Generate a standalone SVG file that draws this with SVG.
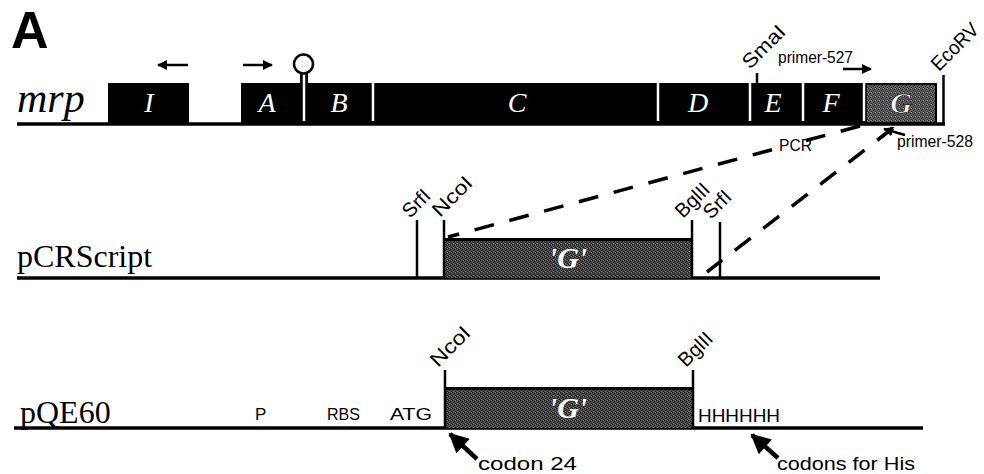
<svg xmlns="http://www.w3.org/2000/svg" width="984" height="474" viewBox="0 0 984 474">
  <defs>
    <!-- stippled grey fill for the G fragment -->
    <pattern id="stip" width="4" height="4" patternUnits="userSpaceOnUse">
      <rect width="4" height="4" fill="#4a4a4a"/>
      <rect x="0" y="0" width="1" height="1" fill="#111"/>
      <rect x="2" y="1" width="1" height="1" fill="#111"/>
      <rect x="1" y="2" width="1" height="1" fill="#1a1a1a"/>
      <rect x="3" y="3" width="1" height="1" fill="#111"/>
      <rect x="3" y="0" width="1" height="1" fill="#7a7a7a"/>
      <rect x="1" y="3" width="1" height="1" fill="#7a7a7a"/>
    </pattern>
    <pattern id="stipG" width="4" height="4" patternUnits="userSpaceOnUse">
      <rect width="4" height="4" fill="#5e5e5e"/>
      <rect x="0" y="0" width="1" height="1" fill="#222"/>
      <rect x="2" y="1" width="1" height="1" fill="#222"/>
      <rect x="1" y="2" width="1" height="1" fill="#2a2a2a"/>
      <rect x="3" y="3" width="1" height="1" fill="#222"/>
      <rect x="3" y="0" width="1" height="1" fill="#999"/>
    </pattern>
    <marker id="head" viewBox="0 0 10 10" refX="9" refY="5" markerWidth="10" markerHeight="10" markerUnits="userSpaceOnUse" orient="auto">
      <path d="M0,0 L10,5 L0,10 Z" fill="#000"/>
    </marker>
    <marker id="bighead" viewBox="0 0 10 10" refX="9" refY="5" markerWidth="5" markerHeight="4.4" orient="auto">
      <path d="M0,0 L10,5 L0,10 Z" fill="#000"/>
    </marker>
  </defs>
  <style>
    .seq { stroke: #000; stroke-width: 3.5; fill: none; }
    .tick { stroke: #000; stroke-width: 2.5; }
    .sep { stroke: #fff; stroke-width: 2.5; }
    .gene { fill: #000; }
    .glab { font-family: "Liberation Serif", serif; font-style: italic; font-size: 28px; fill: #fff; text-anchor: middle; }
    .gbold { font-family: "Liberation Serif", serif; font-style: italic; font-weight: bold; font-size: 30px; fill: #fff; text-anchor: middle; }
    .name { font-family: "Liberation Serif", serif; font-size: 32px; fill: #000; }
    .site { font-family: "Liberation Sans", sans-serif; font-size: 20px; fill: #000; }
    .lab { font-family: "Liberation Sans", sans-serif; font-size: 16px; fill: #000; }
    .note { font-family: "Liberation Sans", sans-serif; font-size: 18px; fill: #000; }
    .dash { stroke: #000; stroke-width: 3.5; stroke-dasharray: 20 16; fill: none; }
    .arr { stroke: #000; stroke-width: 2.5; fill: none; }
    .bigarr { stroke: #000; stroke-width: 4.5; fill: none; }
  </style>

  <text x="11" y="48" font-family="Liberation Sans, sans-serif" font-weight="bold" font-size="52" fill="#000">A</text>

  <!-- mrp locus -->
  <g id="mrp">
    <text x="17" y="112" font-family="Liberation Serif, serif" font-style="italic" font-size="42" fill="#000">mrp</text>
    <line class="seq" x1="17" y1="124" x2="945" y2="124"/>
    <rect class="gene" x="108" y="83" width="81" height="41"/>
    <rect class="gene" x="241" y="83" width="624" height="41"/>
    <rect x="866" y="84" width="70" height="39" fill="url(#stipG)" stroke="#000" stroke-width="2"/>
    <line class="sep" x1="373" y1="83" x2="373" y2="121"/>
    <line class="sep" x1="658" y1="83" x2="658" y2="121"/>
    <line class="sep" x1="750" y1="83" x2="750" y2="121"/>
    <line class="sep" x1="803" y1="83" x2="803" y2="121"/>
    <line class="sep" x1="864" y1="83" x2="864" y2="121"/>
    <!-- terminator hairpin between A and B -->
    <rect x="300" y="73" width="8" height="11" fill="#000"/>
    <line x1="304" y1="72" x2="304" y2="121" stroke="#fff" stroke-width="2.5"/>
    <circle cx="303.5" cy="64" r="9.5" fill="#fff" stroke="#000" stroke-width="2.5"/>
    <text class="glab" x="149" y="112">I</text>
    <text class="glab" x="267" y="112">A</text>
    <text class="glab" x="339" y="112">B</text>
    <text class="glab" x="517" y="112">C</text>
    <text class="glab" x="698" y="112">D</text>
    <text class="glab" x="773" y="112">E</text>
    <text class="glab" x="831" y="112">F</text>
    <text class="gbold" x="901" y="113" stroke="#000" stroke-width="0.6">G</text>
    <!-- transcription direction arrows -->
    <line class="arr" x1="188" y1="65" x2="158" y2="65" marker-end="url(#head)"/>
    <line class="arr" x1="243" y1="65" x2="272" y2="65" marker-end="url(#head)"/>
    <!-- restriction sites -->
    <line class="tick" x1="757" y1="73" x2="757" y2="83"/>
    <text class="site" transform="translate(750,70) rotate(-45)" textLength="52" lengthAdjust="spacingAndGlyphs">SmaI</text>
    <line class="tick" x1="943.5" y1="75" x2="943.5" y2="124"/>
    <text class="site" transform="translate(939,72) rotate(-45)" textLength="58" lengthAdjust="spacingAndGlyphs">EcoRV</text>
    <!-- primers -->
    <text class="lab" x="778" y="63" textLength="75" lengthAdjust="spacingAndGlyphs">primer-527</text>
    <line class="arr" x1="843" y1="69" x2="871" y2="69" marker-end="url(#head)"/>
    <line class="arr" x1="905" y1="135" x2="884" y2="129" marker-end="url(#head)"/>
    <text class="lab" x="897" y="147" textLength="76" lengthAdjust="spacingAndGlyphs">primer-528</text>
  </g>

  <!-- PCR product carried down to the cloning vector -->
  <g id="connectors">
    <path class="dash" d="M860,126 L802,141.6 M772,149.7 L448,237"/>
    <line class="dash" x1="893" y1="128" x2="707" y2="272"/>
    <text class="lab" x="779" y="151" textLength="33" lengthAdjust="spacingAndGlyphs">PCR</text>
  </g>

  <!-- pCRScript clone -->
  <g id="pCRScript">
    <text class="name" x="17" y="267">pCRScript</text>
    <line class="seq" x1="17" y1="278" x2="880" y2="278"/>
    <rect x="444" y="238" width="248" height="40" fill="url(#stip)"/>
    <line x1="444" y1="239.5" x2="692" y2="239.5" stroke="#000" stroke-width="3"/>
    <text class="gbold" x="568" y="268">'G'</text>
    <line class="tick" x1="417" y1="220" x2="417" y2="278"/>
    <line class="tick" x1="444" y1="220" x2="444" y2="278"/>
    <line class="tick" x1="692" y1="220" x2="692" y2="278"/>
    <line class="tick" x1="720" y1="222" x2="720" y2="278"/>
    <text class="site" transform="translate(410,219) rotate(-45)" textLength="31" lengthAdjust="spacingAndGlyphs">SrfI</text>
    <text class="site" transform="translate(440,218) rotate(-45)" textLength="48" lengthAdjust="spacingAndGlyphs">NcoI</text>
    <text class="site" transform="translate(683,219) rotate(-45)" textLength="40" lengthAdjust="spacingAndGlyphs">BglII</text>
    <text class="site" transform="translate(711,220) rotate(-45)" textLength="31" lengthAdjust="spacingAndGlyphs">SrfI</text>
  </g>

  <!-- pQE60 expression construct -->
  <g id="pQE60">
    <text class="name" x="20" y="423">pQE60</text>
    <line class="seq" x1="14" y1="428" x2="923" y2="428"/>
    <rect x="445" y="387" width="248" height="41" fill="url(#stip)"/>
    <line x1="445" y1="388.5" x2="693" y2="388.5" stroke="#000" stroke-width="3"/>
    <text class="gbold" x="568" y="418">'G'</text>
    <line class="tick" x1="445" y1="370" x2="445" y2="428"/>
    <line class="tick" x1="693" y1="370" x2="693" y2="428"/>
    <text class="site" transform="translate(438,368) rotate(-45)" textLength="48" lengthAdjust="spacingAndGlyphs">NcoI</text>
    <text class="site" transform="translate(686,368) rotate(-45)" textLength="40" lengthAdjust="spacingAndGlyphs">BglII</text>
    <text x="255" y="420" font-family="Liberation Sans, sans-serif" font-size="17">P</text>
    <text x="327" y="420" font-family="Liberation Sans, sans-serif" font-size="17" textLength="33" lengthAdjust="spacingAndGlyphs">RBS</text>
    <text x="390" y="420" font-family="Liberation Sans, sans-serif" font-size="17" textLength="42" lengthAdjust="spacingAndGlyphs">ATG</text>
    <text x="698" y="422" font-family="Liberation Sans, sans-serif" font-size="18" textLength="82" lengthAdjust="spacingAndGlyphs">HHHHHH</text>
    <line class="bigarr" x1="477" y1="459" x2="450" y2="434" marker-end="url(#bighead)"/>
    <text class="note" x="478" y="470" textLength="99" lengthAdjust="spacingAndGlyphs">codon 24</text>
    <line class="bigarr" x1="778" y1="458" x2="752" y2="435" marker-end="url(#bighead)"/>
    <text class="note" x="777" y="470" textLength="138" lengthAdjust="spacingAndGlyphs">codons for His</text>
  </g>
</svg>
